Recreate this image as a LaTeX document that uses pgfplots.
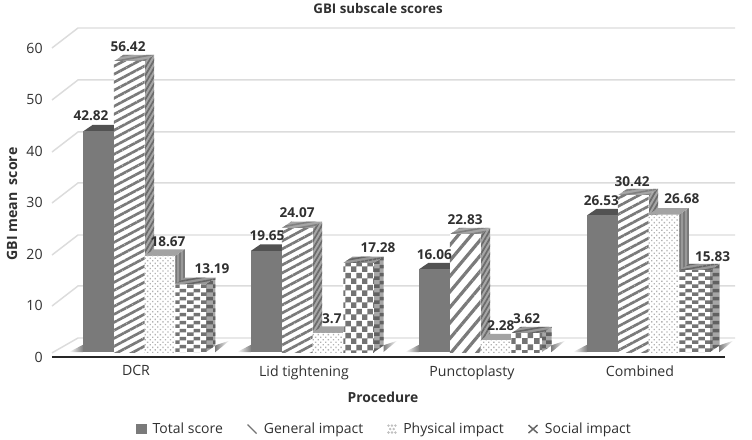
\documentclass[border=0pt]{standalone}
\usepackage{fontspec}
\setmainfont{Open Sans}
\usepackage{pgfplots}
\pgfplotsset{compat=1.18}
\usetikzlibrary{patterns,patterns.meta}
\definecolor{txt}{HTML}{303030}
\definecolor{gridc}{HTML}{DCDCDC}
\pgfdeclarepatternformonly{chkA}{\pgfqpoint{0pt}{0pt}}{\pgfqpoint{10pt}{6pt}}{\pgfqpoint{10pt}{6pt}}{%
  \pgfpathrectangle{\pgfqpoint{0pt}{0pt}}{\pgfqpoint{5pt}{3pt}}%
  \pgfpathrectangle{\pgfqpoint{5pt}{3pt}}{\pgfqpoint{5pt}{3pt}}%
  \pgfusepath{fill}}
\pgfdeclarepatternformonly{chkB}{\pgfqpoint{0pt}{0pt}}{\pgfqpoint{8.5pt}{9pt}}{\pgfqpoint{8.5pt}{9pt}}{%
  \pgfpathrectangle{\pgfqpoint{0pt}{0pt}}{\pgfqpoint{4.25pt}{4.5pt}}%
  \pgfpathrectangle{\pgfqpoint{4.25pt}{4.5pt}}{\pgfqpoint{4.25pt}{4.5pt}}%
  \pgfusepath{fill}}
\tikzset{
  fT/.style={fill=black!52},
  sT/.style={fill=black!62},
  tT/.style={fill=black!68},
  fG/.style={fill=white,postaction={pattern={Lines[angle=28,distance=5.3pt,line width=2pt]},pattern color=black!52}},
  fGb/.style={fill=white,postaction={pattern={Lines[angle=50,distance=7.5pt,line width=2.4pt]},pattern color=black!52}},
  sG/.style={fill=black!35,postaction={pattern={Lines[angle=60,distance=3pt,line width=1.3pt]},pattern color=black!58}},
  tG/.style={fill=black!35,postaction={pattern={Lines[angle=10,distance=3pt,line width=1.2pt]},pattern color=black!50}},
  fP/.style={fill=white,postaction={pattern={Dots[distance=2.7pt,radius=0.7pt,angle=45]},pattern color=black!30}},
  sP/.style={fill=black!40,postaction={pattern={Lines[angle=90,distance=3pt,line width=0.8pt]},pattern color=black!52}},
  tP/.style={fill=black!36},
  fS/.style={fill=white,postaction={pattern=chkA,pattern color=black!55}},
  fSb/.style={fill=white,postaction={pattern=chkB,pattern color=black!55}},
  sS/.style={fill=black!35,postaction={pattern=chkA,pattern color=black!62}},
  tS/.style={fill=black!40,postaction={pattern={Lines[angle=10,distance=3pt,line width=1.2pt]},pattern color=black!60}},
}
% #1 bar centre, #2 value, #3 front, #4 side, #5 top
\newcommand{\Bar}[5]{%
  \pgfmathsetmacro\xl{#1-0.0915}\pgfmathsetmacro\xr{#1+0.0915}%
  \pgfmathsetmacro\xL{\xl+0.0565}\pgfmathsetmacro\xR{\xr+0.0565}%
  \pgfmathsetmacro\vt{#2+1.26}%
  \addplot[forget plot,draw=none,mark=none,#4] coordinates {(\xr,0) (\xR,1.26) (\xR,\vt) (\xr,#2)} --cycle;
  \addplot[forget plot,draw=none,mark=none,#5] coordinates {(\xl,#2) (\xL,\vt) (\xR,\vt) (\xr,#2)} --cycle;
  \addplot[forget plot,ybar,bar width=0.183,bar shift=0pt,draw=none,#3] coordinates {(#1,#2)};
}
\newcommand{\Lab}[4]{%
  \addplot[forget plot,ybar,bar width=0.183,bar shift=0pt,draw=none,fill=none,
    nodes near coords,
    every node near coord/.style={anchor=center,xshift=#3*0.75pt,yshift=#4*0.75pt,
      font=\fontsize{10.2}{12}\selectfont\bfseries,text=txt,inner sep=0pt}]
    coordinates {(#1,#2)};
}
\newcommand{\Grid}[2]{%
  \addplot[forget plot,draw=gridc,line width=1.1pt,mark=none] coordinates {(-0.5,#1) (-0.3452,#2) (3.5655,#2)};
}
\newcommand{\Shadow}[1]{%
  \pgfmathsetmacro\aa{#1-0.3985}\pgfmathsetmacro\ab{#1-0.3155}%
  \pgfmathsetmacro\ba{#1+0.4732}\pgfmathsetmacro\bb{#1+0.556}%
  \addplot[forget plot,draw=none,mark=none,left color=white,right color=black!50] coordinates {(\aa,0) (\ab,1.4) (\ab,0)} --cycle;
  \addplot[forget plot,draw=none,mark=none,left color=black!50,right color=white] coordinates {(\ba,0) (\ba,1.3) (\bb,2.2)} --cycle;
}
\begin{document}
\begin{tikzpicture}
\path[use as bounding box] (0,0) rectangle (564pt,329.25pt);
\begin{axis}[
  at={(39pt,61.5pt)},anchor=south west,
  scale only axis,width=512.25pt,height=246.75pt,
  xmin=-0.5,xmax=3.5655,ymin=-0.97,ymax=62.91,
  clip=false,
  axis line style={draw=none},
  major tick style={draw=none},
  /pgf/number format/assume math mode=true,
  xtick={0,1,2,3},
  xticklabels={DCR,Lid tightening,Punctoplasty,Combined},
  ytick={0,10,20,30,40,50,60},
  tick label style={font=\fontsize{10.6}{12}\selectfont,text=txt},
  yticklabel style={yshift=-3.75pt,xshift=-3.5pt},
  xticklabel style={yshift=-3pt},
  title={GBI subscale scores},
  title style={at={(axis description cs:0.4773,1.0578)},anchor=center,yshift=-6pt,font=\fontsize{10}{12}\selectfont\bfseries,text=txt},
  xlabel={Procedure},
  xlabel style={at={(axis description cs:0.4846,-0.1216)},anchor=center,font=\fontsize{10.4}{12}\selectfont\bfseries,text=txt},
  ylabel={GBI mean\ \ score},
  ylabel style={at={(axis description cs:-0.0586,0.465)},anchor=center,font=\fontsize{10.6}{12}\selectfont\bfseries,text=txt},
  legend style={at={(axis description cs:0.4875,-0.219)},anchor=center,draw=none,fill=none,
    legend columns=4,font=\fontsize{10.5}{12}\selectfont,text=txt,
    /tikz/every odd column/.append style={column sep=3pt},
    /tikz/every even column/.append style={column sep=16pt}},
  legend cell align=left,
]
\Grid{-0.17}{2.72}
\Grid{8.93}{12.82}
\Grid{18.83}{22.72}
\Grid{28.93}{32.82}
\Grid{38.83}{42.72}
\Grid{48.93}{52.82}
\Grid{59.03}{62.91}
\Shadow{0}\Shadow{1}\Shadow{2}\Shadow{3}
% DCR
\Bar{-0.2238}{42.82}{fT}{sT}{tT}
\Bar{-0.0408}{56.42}{fG}{sG}{tG}
\Bar{0.1422}{18.67}{fP}{sP}{tP}
\Bar{0.3252}{13.19}{fS}{sS}{tS}
% Lid tightening
\Bar{0.7762}{19.65}{fT}{sT}{tT}
\Bar{0.9592}{24.07}{fG}{sG}{tG}
\Bar{1.1422}{3.7}{fP}{sP}{tP}
\Bar{1.3252}{17.28}{fSb}{sS}{tS}
% Punctoplasty
\Bar{1.7762}{16.06}{fT}{sT}{tT}
\Bar{1.9592}{22.83}{fGb}{sG}{tG}
\Bar{2.1422}{2.28}{fP}{sP}{tP}
\Bar{2.3252}{3.62}{fSb}{sS}{tS}
% Combined
\Bar{2.7762}{26.53}{fT}{sT}{tT}
\Bar{2.9592}{30.42}{fG}{sG}{tG}
\Bar{3.1422}{26.68}{fP}{sP}{tP}
\Bar{3.3252}{15.83}{fS}{sS}{tS}
% front floor line
\addplot[forget plot,draw=black!85,line width=1.5pt,mark=none] coordinates {(-0.5,-0.97) (3.505,-0.97)};
% value labels
\Lab{-0.2238}{42.82}{-7.4}{15.5}
\Lab{-0.0408}{56.42}{-1.1}{14.4}
\Lab{0.1422}{18.67}{8.1}{13.9}
\Lab{0.3252}{13.19}{21.4}{15}
\Lab{0.7762}{19.65}{0.6}{14.8}
\Lab{0.9592}{24.07}{0}{15}
\Lab{1.1422}{3.7}{4}{14}
\Lab{1.3252}{17.28}{19.4}{15}
\Lab{1.7762}{16.06}{0}{15}
\Lab{1.9592}{22.83}{0}{15}
\Lab{2.1422}{2.28}{5}{15}
\Lab{2.3252}{3.62}{0}{15}
\Lab{2.7762}{26.53}{-1}{15}
\Lab{2.9592}{30.42}{-1}{14}
\Lab{3.1422}{26.68}{18}{16}
\Lab{3.3252}{15.83}{18}{14}
% legend
\addlegendimage{legend image code/.code={\fill[black!52] (0pt,-3.4pt) rectangle (6.8pt,3.4pt);}}
\addlegendentry{Total score}
\addlegendimage{legend image code/.code={\draw[black!55,line width=0.9pt] (0pt,3.4pt) -- (6.8pt,-3.4pt);}}
\addlegendentry{General impact}
\addlegendimage{legend image code/.code={\fill[black!25] (0.8pt,2.6pt) circle (0.7pt) (3.4pt,2.6pt) circle (0.7pt) (6pt,2.6pt) circle (0.7pt) (2.1pt,0pt) circle (0.7pt) (4.7pt,0pt) circle (0.7pt) (0.8pt,-2.6pt) circle (0.7pt) (3.4pt,-2.6pt) circle (0.7pt) (6pt,-2.6pt) circle (0.7pt);}}
\addlegendentry{Physical impact}
\addlegendimage{legend image code/.code={\draw[black!60,line width=1.1pt] (0pt,3pt) -- (6.8pt,-3pt) (0pt,-3pt) -- (6.8pt,3pt);}}
\addlegendentry{Social impact}
\end{axis}
\end{tikzpicture}
\end{document}
